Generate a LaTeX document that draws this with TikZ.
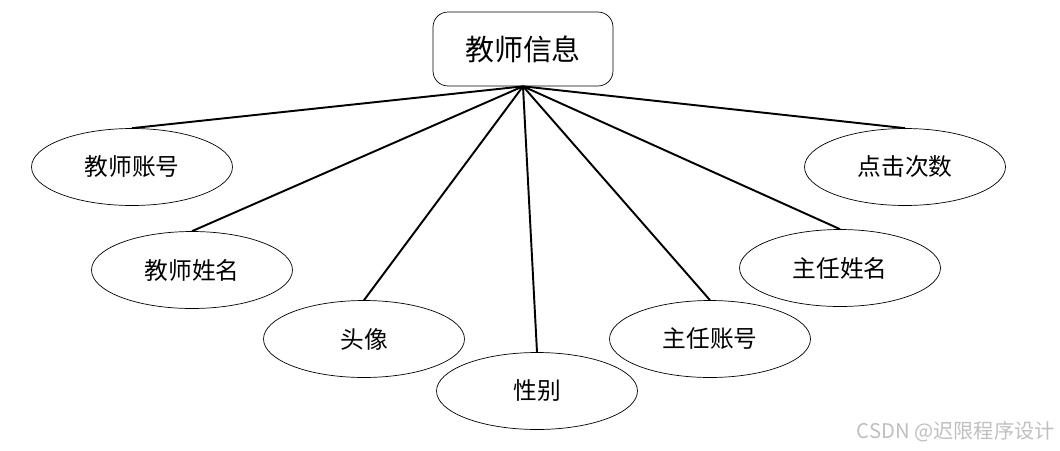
\documentclass[tikz,border=0pt]{standalone}
\usepackage{fontspec}
\setmainfont{Noto Sans CJK SC}
\usepackage{tikz}
\usetikzlibrary{shapes.geometric}

\tikzset{
    attr/.style={draw, thin, ellipse, minimum width=4.02cm, minimum height=1.54cm, inner sep=0pt, font=\fontsize{13.5pt}{15pt}\selectfont},
    link/.style={draw, line width=1.1pt}
}

\begin{document}
\begin{tikzpicture}[x=0.02cm, y=-0.02cm]
            \useasboundingbox (0,0) rectangle (1060,450); % canvas
            \node[draw, rounded corners=0.3cm, minimum width=3.6cm, minimum height=1.48cm, font=\fontsize{16.5pt}{18pt}\selectfont] (teacher) at (523,49) {教师信息}; % entity
            \node[attr] (tno) at (132,167) {教师账号};
            \node[attr] (tname) at (192,270) {教师姓名};
            \node[attr] (avatar) at (364,339) {头像};
            \node[attr] (sex) at (537,391) {性别};
            \node[attr] (hno) at (710,339) {主任账号};
            \node[attr] (hname) at (840,268) {主任姓名};
            \node[attr] (clicks) at (905,167) {点击次数};
            \foreach \a in {tno,tname,avatar,sex,hno,hname,clicks}
                \draw[link] (teacher.south) -- (\a.north);
            \node[text=black!25, font=\fontsize{11.5pt}{13pt}\selectfont, anchor=east, inner sep=0pt] (mark) at (1055,432) {CSDN @迟限程序设计}; % watermark
        \end{tikzpicture}
\end{document}
